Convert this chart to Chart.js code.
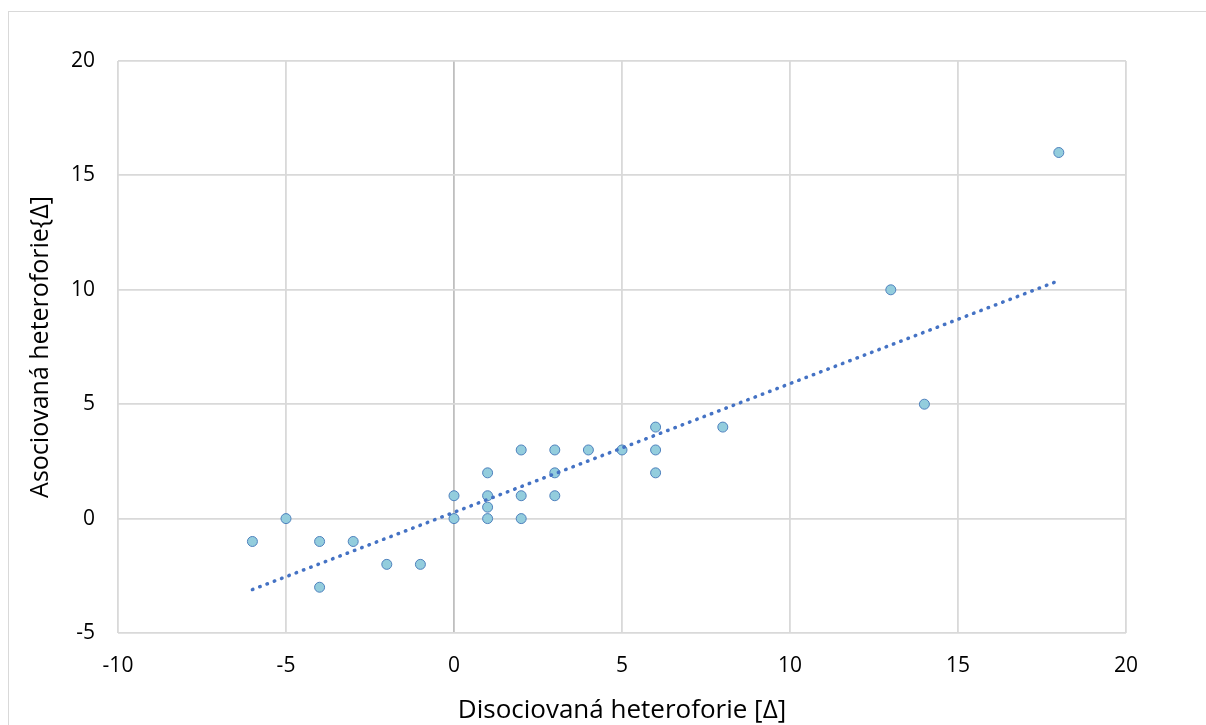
<!DOCTYPE html>
<html lang="cs">
<head>
    <meta charset="UTF-8">
    <title>Heteroforie</title>
    <style>
        body { margin: 0; background: #fff; }
        #wrap { position: relative; width: 1206px; height: 725px; overflow: hidden; }
        #frame {
            position: absolute; left: 8px; top: 11px;
            width: 1300px; height: 800px;
            border: 1px solid #d9d9d9;
        }
        #chart { position: absolute; left: 0; top: 0; }
    </style>
</head>
<body>
    <div id="wrap">
        <div id="frame"></div>
        <canvas id="chart" width="1206" height="725"></canvas>
    </div>
    <script src="https://cdn.jsdelivr.net/npm/chart.js"></script>
    <script>
        // disociovaná (x) vs asociovaná (y) heteroforie
        const xVals = [-6, -5, -4, -4, -3, -2, -1, 0, 0, 1, 1, 1, 1, 2, 2, 2, 3, 3, 3, 4, 5, 6, 6, 6, 8, 13, 14, 18];
        const yVals = [-1, 0, -1, -3, -1, -2, -2, 0, 1, 0, 0.5, 1, 2, 0, 1, 3, 1, 2, 3, 3, 3, 2, 3, 4, 4, 10, 5, 16];
        // lineární spojnice trendu (koncové body)
        const trendX = [-6, 18];
        const trendY = [-3.1, 10.4];
        const xTicks = [-10, -5, 0, 5, 10, 15, 20];
        const yTicks = [-5, 0, 5, 10, 15, 20];

        const font = 'Open Sans';
        const ctx = document.getElementById('chart').getContext('2d');

        new Chart(ctx, {
            type: 'scatter',
            data: {
                datasets: [{
                    label: 'Trend',
                    type: 'line',
                    data: trendX.map((x, i) => ({ x: x, y: trendY[i] })),
                    borderColor: '#4472C4',
                    borderWidth: 3.5,
                    borderDash: [0.5, 7.3],
                    borderCapStyle: 'round',
                    pointRadius: 0,
                    fill: false
                }, {
                    label: 'Heteroforie',
                    data: xVals.map((x, i) => ({ x: x, y: yVals[i] })),
                    backgroundColor: '#93CDDD',
                    borderColor: '#4F81BD',
                    borderWidth: 1,
                    pointRadius: 5
                }]
            },
            options: {
                responsive: false,
                animation: false,
                layout: { padding: { top: 61, right: 80, left: 0, bottom: 0 } },
                plugins: { legend: { display: false }, tooltip: { enabled: false } },
                scales: {
                    x: {
                        type: 'linear',
                        min: -10, max: 20,
                        afterBuildTicks: s => { s.ticks = xTicks.map(v => ({ value: v })); },
                        afterFit: s => { s.height = 92; },
                        grid: {
                            color: c => c.tick && c.tick.value === 0 ? '#bfbfbf' : '#d9d9d9',
                            lineWidth: 1.8,
                            drawTicks: false
                        },
                        border: { display: false },
                        ticks: { color: '#000', padding: 20, font: { family: font, size: 21 } },
                        title: {
                            display: true,
                            text: 'Disociovaná heteroforie [Δ]',
                            color: '#000',
                            padding: { top: 0, bottom: -1 },
                            font: { family: font, size: 26 }
                        }
                    },
                    y: {
                        type: 'linear',
                        min: -5, max: 20,
                        afterBuildTicks: s => { s.ticks = yTicks.map(v => ({ value: v })); },
                        afterFit: s => { s.width = 118; },
                        grid: { color: '#d9d9d9', lineWidth: 1.8, drawTicks: false },
                        border: { display: false },
                        ticks: { color: '#000', padding: 23, font: { family: font, size: 21 } },
                        title: {
                            display: true,
                            text: 'Asociovaná heteroforie{Δ]',
                            color: '#000',
                            padding: { top: 26, bottom: 0 },
                            font: { family: font, size: 25 }
                        }
                    }
                }
            }
        });
    </script>
</body>
</html>
